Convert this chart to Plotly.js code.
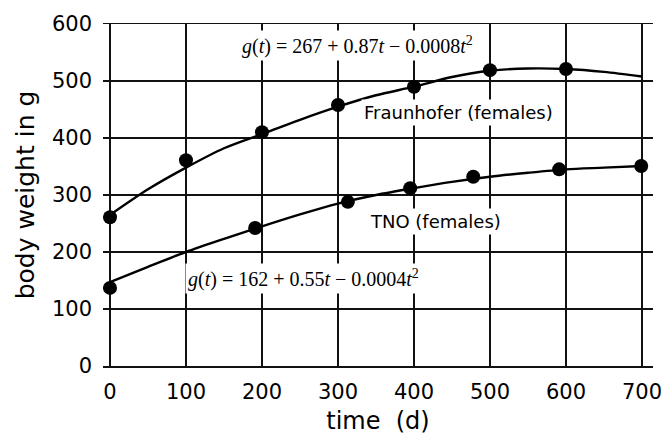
<!DOCTYPE html>
<html>
<head>
<meta charset="utf-8">
<script src="https://cdn.plot.ly/plotly-3.0.1.min.js"></script>
<style>html,body{margin:0;padding:0;background:#fff;}#chart{width:661px;height:435px;}</style>
</head>
<body>
<div id="chart"></div>
<script>
// Measured data points
const fraunhoferT = [0, 100, 200, 300, 400, 500, 600];
const fraunhoferW = [261, 361, 410, 458, 490, 519, 521];
const tnoT = [0, 191, 313, 395, 478, 591, 699];
const tnoW = [137, 242, 288, 312, 332, 345, 351];

// Fitted curves as drawn
const curveT = [0, 50, 100, 150, 200, 250, 300, 350, 400, 450, 500, 550, 600, 650, 700];
const fraunhoferCurve = [265, 310, 348, 382, 407, 432, 455, 475, 490, 507, 518, 522, 521, 516, 508];
const tnoCurve = [147, 174, 200, 223, 245, 266, 285, 300, 312, 323, 332, 339, 345, 348, 351];

const xTicks = [0, 100, 200, 300, 400, 500, 600, 700];
const yTicks = [0, 100, 200, 300, 400, 500, 600];

const sans = 'DejaVu Sans, sans-serif';
const serif = 'Liberation Serif, Times New Roman, serif';

const traces = [
  {x: curveT, y: fraunhoferCurve, mode: 'lines', line: {color: '#000', width: 2.4, shape: 'spline', smoothing: 0.8}, hoverinfo: 'skip'},
  {x: curveT, y: tnoCurve, mode: 'lines', line: {color: '#000', width: 2.4, shape: 'spline', smoothing: 0.8}, hoverinfo: 'skip'},
  {x: fraunhoferT, y: fraunhoferW, mode: 'markers', marker: {color: '#000', size: 14}},
  {x: tnoT, y: tnoW, mode: 'markers', marker: {color: '#000', size: 14}}
];

const layout = {
  width: 661, height: 435,
  margin: {l: 103, r: 8, t: 24, b: 69},
  paper_bgcolor: '#fff', plot_bgcolor: '#fff',
  showlegend: false,
  font: {family: sans, color: '#000'},
  xaxis: {
    range: [-9.2, 714.5],
    tickvals: xTicks, ticktext: xTicks.map(String),
    showgrid: true, gridcolor: '#111', gridwidth: 1.3,
    zeroline: false,
    showline: true, mirror: true, linecolor: '#111', linewidth: 1.5,
    ticks: '', ticklabelstandoff: 6, ticklabeloverflow: 'allow',
    tickfont: {family: sans, size: 21, color: '#000'},
    title: {text: 'time  (d)', font: {family: sans, size: 24, color: '#000'}, standoff: 12}
  },
  yaxis: {
    range: [0, 600],
    tickvals: yTicks, ticktext: yTicks.map(String),
    showgrid: true, gridcolor: '#111', gridwidth: 1.3,
    zeroline: false, showline: false,
    ticks: '', ticklabelstandoff: 10,
    tickfont: {family: sans, size: 21, color: '#000'},
    title: {text: 'body weight in g', font: {family: sans, size: 25, color: '#000'}, standoff: 10}
  },
  annotations: [
    {x: 326, y: 563, xref: 'x', yref: 'y', showarrow: false, bgcolor: '#fff', borderpad: 2,
     text: '<i>g</i>(<i>t</i>) = 267 + 0.87<i>t</i> − 0.0008<i>t</i><sup>2</sup>',
     font: {family: serif, size: 20, color: '#000'}},
    {x: 458, y: 444, xref: 'x', yref: 'y', showarrow: false, bgcolor: '#fff', borderpad: 2,
     text: 'Fraunhofer (females)', font: {family: sans, size: 18, color: '#000'}},
    {x: 428, y: 253, xref: 'x', yref: 'y', showarrow: false, bgcolor: '#fff', borderpad: 2,
     text: 'TNO (females)', font: {family: sans, size: 18, color: '#000'}},
    {x: 255, y: 154, xref: 'x', yref: 'y', showarrow: false, bgcolor: '#fff', borderpad: 2,
     text: '<i>g</i>(<i>t</i>) = 162 + 0.55<i>t</i> − 0.0004<i>t</i><sup>2</sup>',
     font: {family: serif, size: 20, color: '#000'}}
  ]
};

Plotly.newPlot('chart', traces, layout, {staticPlot: true, displayModeBar: false});
</script>
</body>
</html>
